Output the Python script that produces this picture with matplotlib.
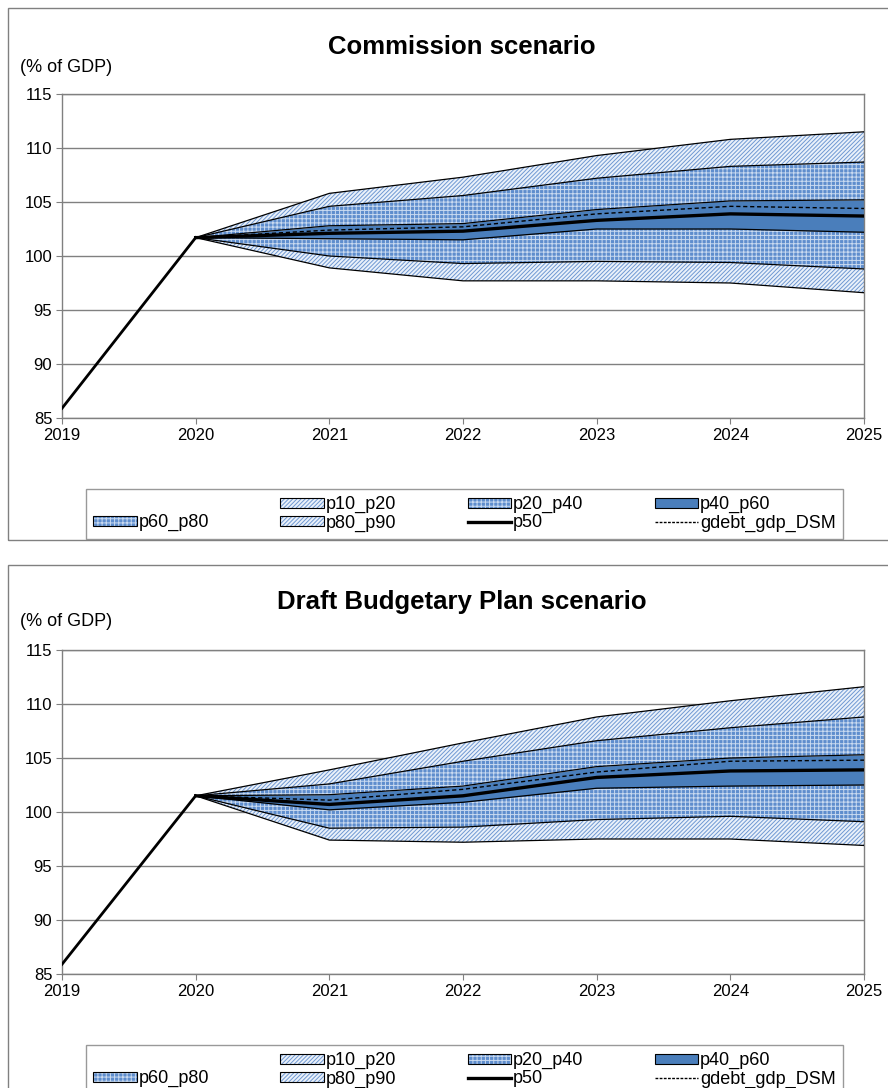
import matplotlib
matplotlib.use("Agg")
import matplotlib.pyplot as plt
from matplotlib.patches import Patch, Rectangle
from matplotlib.lines import Line2D
from matplotlib.legend_handler import HandlerTuple

plt.rcParams["font.family"] = ["Liberation Sans", "DejaVu Sans"]
plt.rcParams["hatch.linewidth"] = 0.7

# ----------------------------------------------------------
# DATA
# ----------------------------------------------------------
YEARS = [2019, 2020, 2021, 2022, 2023, 2024, 2025]
HIST_YEARS = [2019, 2020]
FC_YEARS = [2020, 2021, 2022, 2023, 2024, 2025]

# Commission scenario
com_hist = [85.9, 101.7]
com_p10 = [101.7, 98.9, 97.7, 97.7, 97.5, 96.6]
com_p20 = [101.7, 100.0, 99.3, 99.5, 99.4, 98.8]
com_p40 = [101.7, 101.6, 101.5, 102.5, 102.5, 102.2]
com_p50 = [101.7, 102.1, 102.3, 103.3, 103.9, 103.7]
com_p60 = [101.7, 102.8, 103.0, 104.3, 105.1, 105.2]
com_p80 = [101.7, 104.6, 105.6, 107.2, 108.3, 108.7]
com_p90 = [101.7, 105.8, 107.3, 109.3, 110.8, 111.5]
com_dsm = [101.7, 102.4, 102.7, 103.9, 104.6, 104.4]

# Draft Budgetary Plan scenario
dbp_hist = [85.9, 101.5]
dbp_p10 = [101.5, 97.4, 97.2, 97.5, 97.5, 96.9]
dbp_p20 = [101.5, 98.5, 98.6, 99.3, 99.6, 99.1]
dbp_p40 = [101.5, 100.2, 100.9, 102.2, 102.4, 102.5]
dbp_p50 = [101.5, 100.7, 101.5, 103.2, 103.8, 103.9]
dbp_p60 = [101.5, 101.6, 102.4, 104.2, 105.0, 105.3]
dbp_p80 = [101.5, 102.6, 104.7, 106.6, 107.8, 108.8]
dbp_p90 = [101.5, 103.9, 106.4, 108.8, 110.3, 111.6]
dbp_dsm = [101.5, 101.1, 102.1, 103.7, 104.7, 104.8]

Y_TICKS = [85, 90, 95, 100, 105, 110, 115]

# ----------------------------------------------------------
# STYLE
# ----------------------------------------------------------
GREY = "#808080"
SOLID_BLUE = "#4a7ebb"
DOT_FACE = "#5e8dcd"
DOT_HATCH = "#c9daf0"
HATCH_FACE = "#eaf1fa"
HATCH_LINE = "#6f98d2"

STYLE_OUTER = dict(facecolor=HATCH_FACE, edgecolor=HATCH_LINE, hatch="////////", linewidth=0)
STYLE_MID = dict(facecolor=DOT_FACE, edgecolor=DOT_HATCH, hatch="++++", linewidth=0)
STYLE_CORE = dict(facecolor=SOLID_BLUE, edgecolor=SOLID_BLUE, linewidth=0)


def draw_panel(ax, hist, p10, p20, p40, p50, p60, p80, p90, dsm):
    ax.fill_between(FC_YEARS, p10, p20, zorder=2, **STYLE_OUTER)
    ax.fill_between(FC_YEARS, p20, p40, zorder=2, **STYLE_MID)
    ax.fill_between(FC_YEARS, p40, p60, zorder=2, **STYLE_CORE)
    ax.fill_between(FC_YEARS, p60, p80, zorder=2, **STYLE_MID)
    ax.fill_between(FC_YEARS, p80, p90, zorder=2, **STYLE_OUTER)

    for band in (p10, p20, p40, p60, p80, p90):
        ax.plot(FC_YEARS, band, color="black", linewidth=0.9, zorder=3)

    ax.plot(FC_YEARS, p50, color="black", linewidth=2.4, zorder=4)
    ax.plot(FC_YEARS, dsm, color="black", linewidth=1.0, linestyle=(0, (3, 2)), zorder=4)
    ax.plot(HIST_YEARS, hist, color="black", linewidth=2.0, zorder=4)

    ax.set_xlim(YEARS[0], YEARS[-1])
    ax.set_ylim(Y_TICKS[0], Y_TICKS[-1])
    ax.set_xticks(YEARS)
    ax.set_yticks(Y_TICKS)
    ax.grid(axis="y", color=GREY, linewidth=1.0, zorder=0)
    ax.set_axisbelow(True)
    for sp in ax.spines.values():
        sp.set_color(GREY)
        sp.set_linewidth(1.0)
    ax.tick_params(axis="both", direction="out", length=4, color=GREY,
                   labelsize=12, labelcolor="black", pad=3)


def legend_handles():
    frame = dict(fill=False, edgecolor="black", linewidth=0.8)
    h_outer = (Patch(**STYLE_OUTER), Patch(**frame))
    h_mid = (Patch(**STYLE_MID), Patch(**frame))
    h_core = (Patch(**STYLE_CORE), Patch(**frame))
    h_p50 = Line2D([], [], color="black", linewidth=2.4)
    h_dsm = Line2D([], [], color="black", linewidth=1.0, linestyle=(0, (2, 1)))
    h_empty = Patch(facecolor="none", edgecolor="none")
    # legend fills column by column: 2 rows x 4 columns
    handles = [h_empty, h_mid, h_outer, h_outer, h_mid, h_p50, h_core, h_dsm]
    labels = ["", "p60_p80", "p10_p20", "p80_p90", "p20_p40", "p50", "p40_p60",
              "gdebt_gdp_DSM"]
    return handles, labels


fig = plt.figure(figsize=(8.88, 10.88), dpi=100)
W, H = 888.0, 1088.0

panels = [
    ("Commission scenario", 8, 540, 94, 418, 47, 67, 489,
     (com_hist, com_p10, com_p20, com_p40, com_p50, com_p60, com_p80, com_p90, com_dsm)),
    ("Draft Budgetary Plan scenario", 565, 1100, 650, 974, 602, 622, 1045,
     (dbp_hist, dbp_p10, dbp_p20, dbp_p40, dbp_p50, dbp_p60, dbp_p80, dbp_p90, dbp_dsm)),
]

for title, box_top, box_bot, ax_top, ax_bot, t_y, u_y, leg_top, data in panels:
    fig.add_artist(Rectangle((8 / W, 1 - box_bot / H), 1.0, (box_bot - box_top) / H,
                             transform=fig.transFigure, fill=False,
                             edgecolor=GREY, linewidth=1.0))
    ax = fig.add_axes([62 / W, 1 - ax_bot / H, (864 - 62) / W, (ax_bot - ax_top) / H])
    draw_panel(ax, *data)

    fig.text(462 / W, 1 - t_y / H, title, ha="center", va="center",
             fontsize=18.5, fontweight="bold")
    fig.text(20 / W, 1 - u_y / H, "(% of GDP)", ha="left", va="center", fontsize=13)

    handles, labels = legend_handles()
    leg = fig.legend(handles, labels, ncol=4, loc="upper left",
                     bbox_to_anchor=(86 / W, 1 - leg_top / H, (843 - 86) / W, 0.0),
                     mode="expand", fontsize=13, frameon=True, fancybox=False,
                     edgecolor=GREY, handlelength=2.4, handleheight=0.5,
                     handletextpad=0.1, borderpad=0.4, labelspacing=0.05,
                     borderaxespad=0.0, columnspacing=0.5,
                     handler_map={tuple: HandlerTuple(ndivide=1, pad=0)})
    leg.get_frame().set_linewidth(1.0)

fig.savefig("out.png", dpi=100)
